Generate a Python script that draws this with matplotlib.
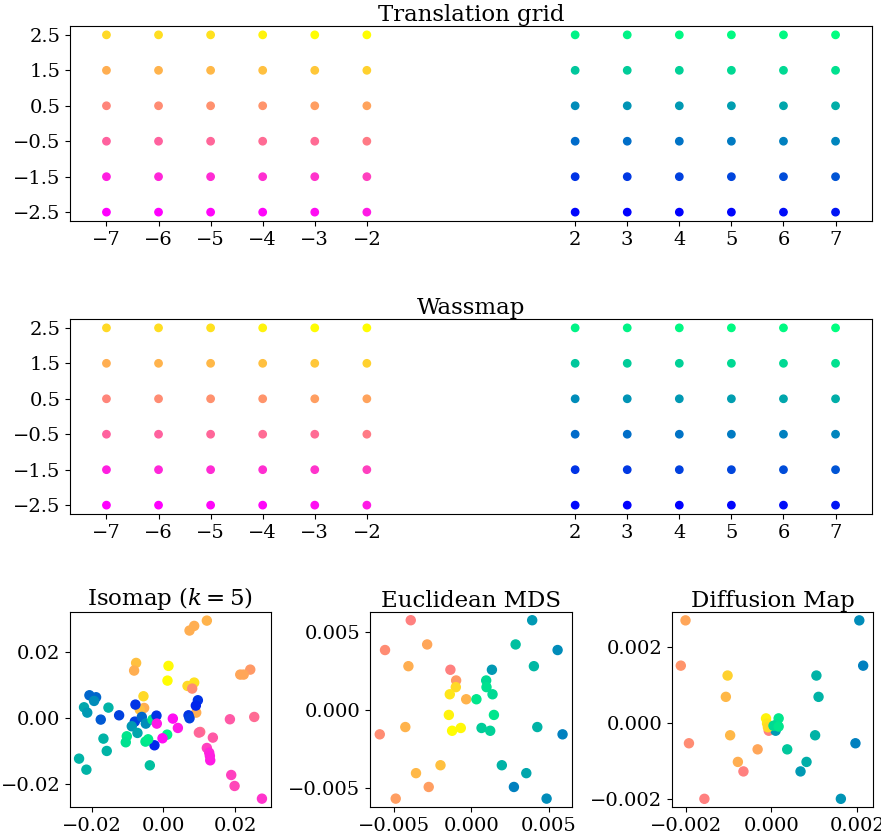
import numpy as np
import matplotlib
matplotlib.use("Agg")
import matplotlib.pyplot as plt
from matplotlib.colors import ListedColormap, Normalize

plt.rcParams['font.family'] = 'DejaVu Serif'
plt.rcParams['mathtext.fontset'] = 'dejavuserif'
plt.rcParams['font.size'] = 14

# grid positions
grid_x = [-7, -6, -5, -4, -3, -2, 2, 3, 4, 5, 6, 7]
grid_y = [-2.5, -1.5, -0.5, 0.5, 1.5, 2.5]
xticks = [-7, -6, -5, -4, -3, -2, 2, 3, 4, 5, 6, 7]
yticks = [-2.5, -1.5, -0.5, 0.5, 1.5, 2.5]

# colour tone per grid point (0-1 spring, 1-2 winter), rows bottom->top
grid_tone = [
    [0.00, 0.00, 0.02, 0.02, 0.05, 0.10, 1.02, 1.00, 1.00, 1.02, 1.05, 1.08],
    [0.12, 0.15, 0.17, 0.18, 0.20, 0.25, 1.20, 1.22, 1.25, 1.27, 1.30, 1.33],
    [0.38, 0.38, 0.40, 0.42, 0.42, 0.48, 1.42, 1.43, 1.45, 1.48, 1.50, 1.52],
    [0.52, 0.55, 0.57, 0.58, 0.62, 0.64, 1.55, 1.58, 1.60, 1.62, 1.65, 1.68],
    [0.68, 0.70, 0.72, 0.75, 0.78, 0.82, 1.78, 1.80, 1.82, 1.85, 1.85, 1.88],
    [0.85, 0.87, 0.88, 0.95, 0.99, 0.99, 1.95, 1.95, 1.97, 1.98, 1.98, 2.00],
]

# Isomap embedding
iso_x = [0.01206, 0.00854, 0.00724, -0.00761, -0.00817, 0.00139, 0.00111, 0.02135,
         0.02413, 0.0223, 0.00668, 0.00854, 0.00798, -0.00557, -0.00538, -0.00659,
         0.0091, -0.0206, -0.01875, -0.0193, -0.0221, -0.0212, -0.01745, -0.01531,
         -0.01234, -0.0078, -0.00798, -0.00882, -0.00603, -0.00492, -0.00724, -0.00306,
         -0.00195, -0.00186, -0.00251, -0.01021, -0.01049, -0.00501, -0.00427, 0.00102,
         -0.00028, 0.0026, 0.004, -0.0167, -0.01578, -0.02348, -0.02144, -0.0038,
         0.00696, 0.00724, 0.00956, 0.009, 0.01021, 0.00984, 0.01373, 0.01206,
         0.01271, 0.013, 0.0129, 0.01847, 0.02524, 0.01884, 0.01977, 0.02738]
iso_y = [0.0294, 0.0278, 0.0264, 0.01662, 0.01431, 0.01572, 0.01128, 0.0131,
         0.0146, 0.0131, 0.00967, 0.01068, 0.00887, 0.00655, 0.00302, 0.00252,
         0.00161, 0.00685, 0.00625, 0.00514, 0.00322, 0.00161, -0.0005, 0.00312,
         0.0008, 0.00403, -0.00111, -0.00252, 0.0003, -0.00171, -0.00453, -0.0005,
         0.0007, -0.00171, -0.00826, -0.00554, -0.00735, -0.00715, -0.00645, -0.00504,
         -0.00615, -0.0002, -0.00302, -0.00625, -0.00997, -0.01229, -0.01562, -0.01431,
         0.0008, -0.0001, 0.00534, 0.00373, -0.00423, -0.00443, -0.00594, -0.00907,
         -0.01048, -0.0128, -0.01149, -0.0004, 0.0003, -0.01723, -0.02055, -0.02438]
iso_tone = [0.70, 0.68, 0.68, 0.75, 0.68, 0.98, 0.99, 0.65,
            0.60, 0.65, 0.85, 0.88, 0.55, 0.85, 0.68, 0.75,
            0.68, 1.40, 1.40, 1.55, 1.65, 1.60, 1.35, 1.70,
            1.25, 1.20, 1.25, 1.60, 1.40, 1.55, 1.65, 1.90,
            1.20, 0.10, 1.15, 1.90, 1.88, 1.90, 1.92, 1.95,
            0.05, 0.05, 0.10, 1.70, 1.70, 1.70, 1.70, 1.75,
            1.20, 1.25, 1.20, 1.15, 0.45, 0.40, 0.35, 0.25,
            0.15, 0.10, 0.12, 0.35, 0.42, 0.25, 0.28, 0.20]

# Euclidean MDS embedding
mds_x = [-0.0039, 0.00394, -0.00556, -0.00284, 0.00287, 0.00558, -0.00405, 0.00405,
         -0.00134, 0.00134, -0.00097, 0.00097, -0.00099, 0.00099, -0.00138, 0.00138,
         -0.00032, 0.00034, -0.00144, 0.00147, -0.00425, 0.00427, -0.0059, 0.0059,
         -0.00123, -0.00067, 0.00067, 0.00123, -0.00198, 0.00198, -0.00356, 0.00356,
         -0.00274, 0.00276, -0.00487, 0.00487]
mds_y = [0.00578, 0.00578, 0.00386, 0.00422, 0.00422, 0.00386, 0.00282, 0.00282,
         0.00259, 0.00259, 0.0019, 0.0019, 0.00147, 0.00147, 0.00101, 0.00101,
         0.00069, 0.00069, -0.00032, -0.00032, -0.0011, -0.0011, -0.00157, -0.00157,
         -0.00134, -0.00116, -0.00116, -0.00134, -0.00356, -0.00356, -0.00407, -0.00407,
         -0.00496, -0.00496, -0.00571, -0.00571]
mds_tone = [0.50, 1.60, 0.55, 0.65, 1.75, 1.55, 0.68, 1.72,
            0.50, 1.60, 0.60, 1.85, 0.85, 1.88, 0.90, 1.85,
            0.70, 1.90, 0.95, 1.90, 0.70, 1.70, 0.55, 1.50,
            0.99, 0.97, 1.80, 1.82, 0.75, 1.70, 0.72, 1.65,
            0.62, 1.50, 0.62, 1.55]

# Diffusion map embedding
dm_x = [-0.002, 0.00205, -0.00211, 0.00214, -0.00102, 0.00105, -0.00106, 0.0011,
        -0.00192, 0.00196, -0.00096, 0.00102, -0.00032, 0.00037, -0.00078, 0.00082,
        -0.00065, 0.00068, -0.00156, 0.00162, -0.00006, 0.0001, -0.000124, -0.0001,
        -0.00008, 0.00017, 0.00013, 0.00005, 0.00017]
dm_y = [0.00269, 0.00269, 0.0015, 0.0015, 0.00124, 0.00124, 0.00068, 0.00068,
        -0.00054, -0.00054, -0.00033, -0.00033, -0.0007, -0.0007, -0.00103, -0.00103,
        -0.00128, -0.00128, -0.002, -0.002, -0.00021, -0.00021, 0.000114, -0.00002,
        -0.00012, 0.000114, -0.00004, -0.00008, -0.0001]
dm_tone = [0.65, 1.55, 0.58, 1.50, 0.82, 1.70, 0.72, 1.70,
           0.55, 1.50, 0.72, 1.70, 0.65, 1.78, 0.68, 1.68,
           0.50, 1.60, 0.50, 1.58, 0.50, 1.60, 0.95, 0.90,
           0.85, 1.90, 1.88, 1.85, 1.90]

cols = np.vstack([plt.get_cmap('spring')(np.linspace(0, 1, 256)),
                  plt.get_cmap('winter')(np.linspace(0, 1, 256))])
cmap = ListedColormap(cols)
norm = Normalize(0, 2)

fig = plt.figure(figsize=(8.81, 8.33), dpi=100)
W, H = 881, 833


def px_axes(l, t, r, b):
    return fig.add_axes([l / W, 1 - b / H, (r - l) / W, (b - t) / H])


def minus(v, dec):
    return f'{v:.{dec}f}'.replace('-', '\u2212')


gx, gy = np.meshgrid(grid_x, grid_y)
tone = np.array(grid_tone)

for (t, b), title in zip([(26, 221), (319, 514)], ['Translation grid', 'Wassmap']):
    ax = px_axes(70, t, 872, b)
    ax.scatter(gx.ravel(), gy.ravel(), c=tone.ravel(), cmap=cmap, norm=norm, s=28)
    ax.set_xticks(xticks)
    ax.set_yticks(yticks)
    ax.set_title(title, fontsize=16.5, pad=3)

panels = [
    (70, 271, 'Isomap ($k=5$)', iso_x, iso_y, iso_tone,
     (-0.026, 0.0299), (-0.0269, 0.032), [-0.02, 0.0, 0.02]),
    (370, 572, 'Euclidean MDS', mds_x, mds_y, mds_tone,
     (-0.00653, 0.00651), (-0.00625, 0.00631), [-0.005, 0.0, 0.005]),
    (672, 873, 'Diffusion Map', dm_x, dm_y, dm_tone,
     (-0.002315, 0.002369), (-0.002215, 0.00291), [-0.002, 0.0, 0.002]),
]
for l, r, title, x, y, c, xl, yl, tk in panels:
    ax = px_axes(l, 612, r, 807)
    ax.scatter(x, y, c=c, cmap=cmap, norm=norm, s=42)
    ax.set_xlim(xl)
    ax.set_ylim(yl)
    ax.set_xticks(tk)
    ax.set_yticks(tk)
    dec = 2 if tk[-1] >= 0.01 else 3
    ax.set_xticklabels([minus(v, dec) for v in tk])
    ax.set_yticklabels([minus(v, dec) for v in tk])
    ax.set_title(title, fontsize=16.5, pad=3)

fig.savefig('out.png', dpi=100)
